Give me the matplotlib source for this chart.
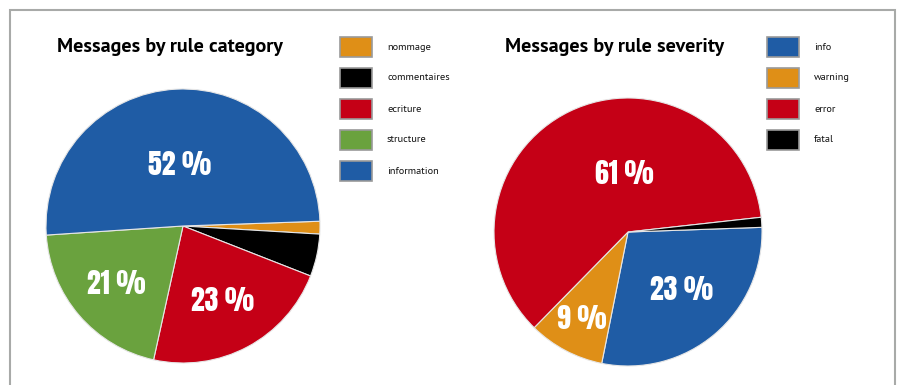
import matplotlib.pyplot as plt
import numpy as np
from matplotlib.patches import Rectangle

# --- data
cat_labels = ["nommage", "commentaires", "ecriture", "structure", "information"]
cat_values = [1.5, 5.0, 22.5, 20.5, 50.5]
cat_texts = ["", "", "23 %", "21 %", "52 %"]

sev_labels = ["info", "warning", "error", "fatal"]
sev_values = [28.7, 9.2, 60.9, 1.2]
sev_texts = ["23 %", "9 %", "61 %", ""]

# --- style
cat_colors = ["#DF8F17", "#000000", "#C50016", "#6AA23E", "#1F5CA5"]
sev_colors = ["#1F5CA5", "#DF8F17", "#C50016", "#000000"]
# label placement: (radius fraction, angle in degrees or None = wedge middle)
cat_pos = [None, None, (0.62, None), (0.64, None), (0.45, None)]
sev_pos = [(0.59, 313), (0.73, None), (0.44, 94), None]

W, H = 901, 385
title_font = ["PT Sans", "Fira Sans", "DejaVu Sans"]
pct_font = ["Anton", "Oswald", "Asap Condensed", "DejaVu Sans"]

fig = plt.figure(figsize=(W / 100, H / 100), dpi=100)

# frame around the graphic (bottom edge cut off)
fig.patches.append(Rectangle((10 / W, -0.1), 885 / W, (H - 10) / H + 0.1,
                             transform=fig.transFigure, fill=False,
                             edgecolor="#a8aaa8", lw=1.5))


def draw_pie(cx, cy, r, values, colors, texts, pos):
    ax = fig.add_axes([(cx - r) / W, (H - cy - r) / H, 2 * r / W, 2 * r / H])
    wedges, _ = ax.pie(values, colors=colors, startangle=2, counterclock=False,
                       radius=1, wedgeprops=dict(edgecolor="#e6e6e6", lw=0.8))
    ax.set_xlim(-1, 1)
    ax.set_ylim(-1, 1)
    for w, t, p in zip(wedges, texts, pos):
        if not t or p is None:
            continue
        frac, ang = p
        if ang is None:
            ang = (w.theta1 + w.theta2) / 2
        a = np.deg2rad(ang)
        ax.text(frac * np.cos(a), frac * np.sin(a), t, ha="center", va="center",
                color="white", fontsize=20, family=pct_font)
    return ax


def draw_legend(x, y0, labels, colors):
    for i, (lab, col) in enumerate(zip(labels, colors)):
        y = y0 + i * 31
        fig.patches.append(Rectangle((x / W, (H - y - 20) / H), 32 / W, 20 / H,
                                     transform=fig.transFigure, facecolor=col,
                                     edgecolor="#9a9a9a", lw=1.2))
        fig.text((x + 47) / W, (H - y - 10) / H, lab, ha="left", va="center",
                 fontsize=7.5, color="#111111", family=title_font)


draw_pie(183, 226, 137, cat_values, cat_colors, cat_texts, cat_pos)
draw_pie(628, 232, 134, sev_values, sev_colors, sev_texts, sev_pos)

fig.text(57 / W, (H - 52) / H, "Messages by rule category", ha="left", va="baseline",
         fontsize=14.5, fontweight="bold", family=title_font)
fig.text(505 / W, (H - 52) / H, "Messages by rule severity", ha="left", va="baseline",
         fontsize=14.5, fontweight="bold", family=title_font)

draw_legend(340, 37, cat_labels, cat_colors)
draw_legend(767, 37, sev_labels, sev_colors)

fig.savefig("out.png", dpi=100)
